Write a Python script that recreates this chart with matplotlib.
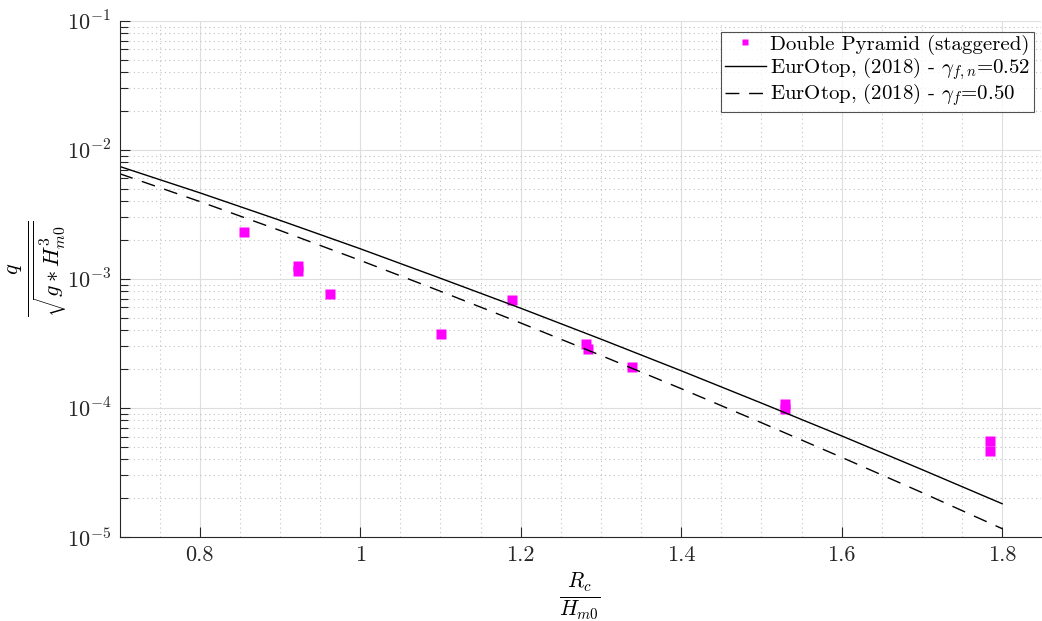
import matplotlib
matplotlib.use("Agg")
import matplotlib.pyplot as plt
from matplotlib.ticker import MultipleLocator, LogLocator, NullFormatter

plt.rcParams['font.family'] = 'serif'
plt.rcParams['font.serif'] = ['cmr10']
plt.rcParams['mathtext.fontset'] = 'cm'
plt.rcParams['axes.unicode_minus'] = False
plt.rcParams['axes.formatter.use_mathtext'] = True

# measured points (Rc/Hm0, q/sqrt(g*Hm0^3))
rc_hm0 = [0.855, 0.922, 0.922, 0.962, 1.1006, 1.1887, 1.281, 1.2835, 1.3386,
          1.529, 1.529, 1.7847, 1.7847]
q_dim = [2.31e-3, 1.25e-3, 1.16e-3, 7.69e-4, 3.77e-4, 6.87e-4, 3.13e-4, 2.88e-4,
         2.09e-4, 1.07e-4, 9.8e-5, 5.58e-5, 4.67e-5]

# EurOtop curves
x_eo = [0.7, 0.8, 0.9, 1.0, 1.1, 1.2, 1.3, 1.4, 1.5, 1.6, 1.7, 1.8]
q_eo_052 = [7.43e-3, 4.64e-3, 2.84e-3, 1.71e-3, 1.01e-3, 5.92e-4, 3.41e-4,
            1.94e-4, 1.09e-4, 6.07e-5, 3.33e-5, 1.81e-5]
q_eo_050 = [6.53e-3, 3.97e-3, 2.37e-3, 1.39e-3, 8.01e-4, 4.55e-4, 2.55e-4,
            1.41e-4, 7.68e-5, 4.14e-5, 2.21e-5, 1.16e-5]

xticks = [0.8, 1.0, 1.2, 1.4, 1.6, 1.8]
xticklabels = ['0.8', '1', '1.2', '1.4', '1.6', '1.8']
yticks = [1e-5, 1e-4, 1e-3, 1e-2, 1e-1]
yticklabels = [r'$10^{-5}$', r'$10^{-4}$', r'$10^{-3}$', r'$10^{-2}$', r'$10^{-1}$']

fig = plt.figure(figsize=(10.42, 6.21), dpi=100)
ax = fig.add_axes([0.1147, 0.1353, 0.884, 0.8314])

ax.plot(rc_hm0, q_dim, 's', color='#FF00FF', ms=6.5, mec='none',
        label='Double Pyramid (staggered)')
ax.plot(x_eo, q_eo_052, '-', color='k', lw=1.0,
        label=r'EurOtop, (2018) - $\gamma_{f,n}$=0.52')
ax.plot(x_eo, q_eo_050, color='k', lw=1.0, dashes=(10, 7),
        label=r'EurOtop, (2018) - $\gamma_f$=0.50')

ax.set_yscale('log')
ax.set_xlim(0.7, 1.848)
ax.set_ylim(1e-5, 1e-1)
ax.set_xticks(xticks)
ax.set_xticklabels(xticklabels)
ax.set_yticks(yticks)
ax.set_yticklabels(yticklabels)
ax.xaxis.set_minor_locator(MultipleLocator(0.05))
ax.yaxis.set_minor_locator(LogLocator(base=10, subs=range(2, 10)))
ax.yaxis.set_minor_formatter(NullFormatter())

ax.grid(True, which='major', color='#dedede', lw=0.8, ls='-')
ax.grid(True, which='minor', color='#c0c0c0', lw=0.8, ls=(0, (1, 3)))
ax.set_axisbelow(True)

ax.tick_params(which='both', direction='in', colors='#262626', labelsize=16)
ax.tick_params(which='major', length=7, width=0.8, pad=6)
ax.tick_params(axis='y', which='minor', length=6, width=0.8)
ax.tick_params(axis='x', which='minor', length=0)
for s in ['top', 'right']:
    ax.spines[s].set_visible(False)
for s in ['left', 'bottom']:
    ax.spines[s].set_color('#262626')
    ax.spines[s].set_linewidth(0.8)

ax.set_xlabel(r'$\frac{R_c}{H_{m0}}$', fontsize=22)
ax.set_ylabel(r'$\frac{q}{\sqrt{g*H_{m0}^3}}$', fontsize=23)
ax.xaxis.set_label_coords(0.5, -0.065)
ax.yaxis.set_label_coords(-0.055, 0.52)

leg = ax.legend(loc='upper right', bbox_to_anchor=(0.9925, 0.979), fontsize=15,
                frameon=True, fancybox=False, handlelength=2.0, handletextpad=0.2,
                borderpad=0.15, labelspacing=0.0, borderaxespad=0, markerscale=0.75)
leg.get_frame().set_edgecolor('#262626')
leg.get_frame().set_linewidth(0.8)

fig.savefig('out.png', dpi=100)
